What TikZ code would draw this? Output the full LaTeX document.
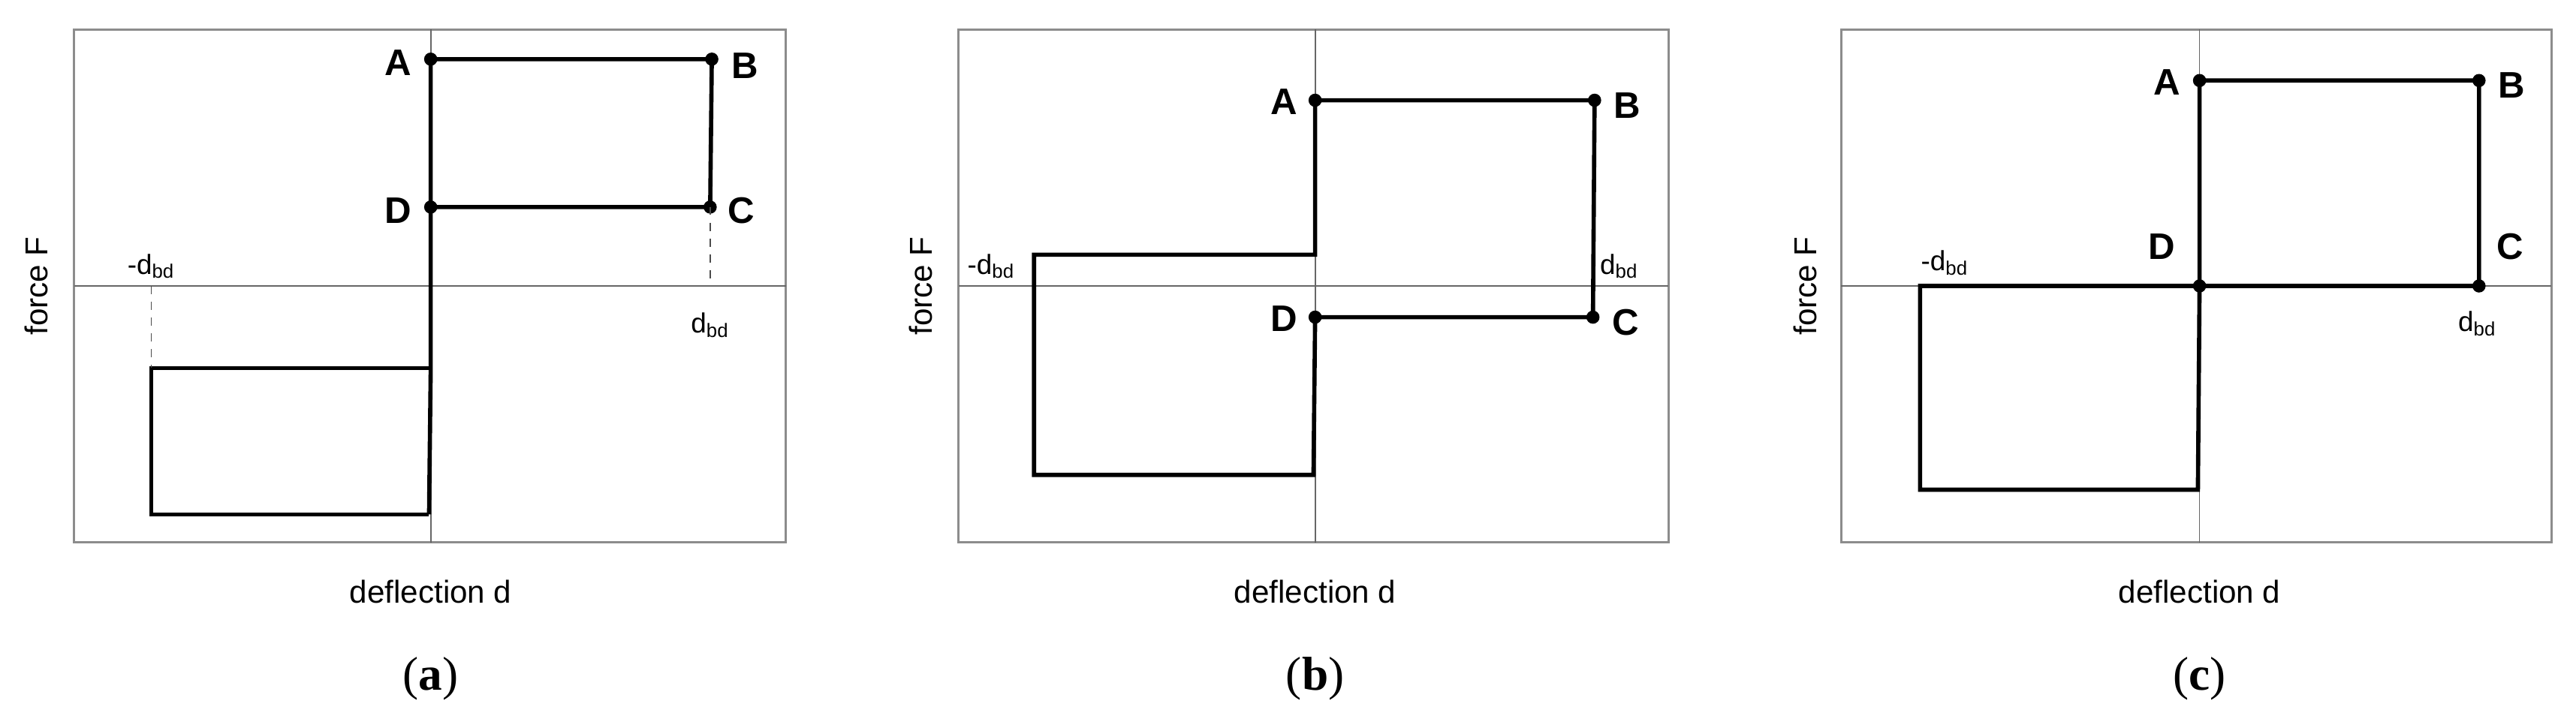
\documentclass[tikz,border=0pt]{standalone}
\usepackage{fontspec}
\setmainfont{Liberation Sans}
\newfontfamily\capfont{Liberation Serif}
\begin{document}
\begin{tikzpicture}[x=0.0219cm,y=-0.0219cm,
  frame/.style={draw=black!45,line width=0.8pt},
  axis/.style={draw=black!60,line width=0.5pt},
  curve/.style={draw=black,line width=1.6pt,line join=miter},
  dot/.style={circle,fill=black,inner sep=0pt,minimum size=5pt},
  pt/.style={font=\fontsize{14}{14}\selectfont\bfseries},
  lab/.style={font=\fontsize{12}{12}\selectfont},
  dl/.style={font=\fontsize{10.5}{10.5}\selectfont,inner sep=1pt},
  captxt/.style={font=\fontsize{18}{18}\capfont},
  dsh/.style={draw=black!70,dashed,line width=0.4pt}]
\useasboundingbox (0,0) rectangle (1567,443);
% ---------- (a)
\draw[frame] (45,18) rectangle (478,330);
\draw[axis] (45,174) -- (478,174) (262,18) -- (262,330);
\coordinate (aA) at (262,36); \coordinate (aB) at (433,36);
\coordinate (aC) at (432,126); \coordinate (aD) at (262,126);
\coordinate (aE) at (262,224); \coordinate (aF) at (92,224);
\coordinate (aG) at (92,313); \coordinate (aH) at (261,313);
\draw[curve] (aA) -- (aB) -- (aC) -- (aD);
\draw[curve] (aH) -- (aE) -- (aA);
\draw[curve] (aE) -- (aF) -- (aG) -- (aH);
\foreach \p in {aA,aB,aC,aD} \node[dot] at (\p) {};
\node[pt] (la) at (242,38) {A}; \node[pt] (lb) at (453,40) {B};
\node[pt] (lc) at (451,128) {C}; \node[pt] (ld) at (242,128) {D};
\draw[dsh] (92,174) -- (aF); \draw[dsh] (aC) -- (432,174);
\node[dl] (am) at (92,162) {-d\textsubscript{bd}};
\node[dl] (ap) at (432,198) {d\textsubscript{bd}};
\node[lab] (ax) at (262,360) {deflection d};
\node[lab,rotate=90] (ay) at (22,174) {force F};
\node[captxt] (ca) at (262,413) {(\textbf{a})};
% ---------- (b)
\draw[frame] (583,18) rectangle (1015,330);
\draw[axis] (583,174) -- (1015,174) (800,18) -- (800,330);
\coordinate (bA) at (800,61); \coordinate (bB) at (970,61);
\coordinate (bC) at (969,193); \coordinate (bD) at (800,193);
\coordinate (bE) at (800,155); \coordinate (bF) at (629,155);
\coordinate (bG) at (629,289); \coordinate (bH) at (799,289);
\draw[curve] (bA) -- (bB) -- (bC) -- (bD) -- (bH) -- (bG) -- (bF) -- (bE) -- (bA);
\foreach \p in {bA,bB,bC,bD} \node[dot] at (\p) {};
\node[pt] at (781,62) {A}; \node[pt] at (990,64) {B};
\node[pt] at (989,196) {C}; \node[pt] at (781,194) {D};
\node[dl] at (603,162) {-d\textsubscript{bd}};
\node[dl] at (985,162) {d\textsubscript{bd}};
\node[lab] at (800,360) {deflection d};
\node[lab,rotate=90] at (560,174) {force F};
\node[captxt] at (800,413) {(\textbf{b})};
% ---------- (c)
\draw[frame] (1120,18) rectangle (1552,330);
\draw[axis] (1120,174) -- (1552,174) (1338,18) -- (1338,330);
\coordinate (cA) at (1338,49); \coordinate (cB) at (1508,49);
\coordinate (cC) at (1508,174); \coordinate (cD) at (1338,174);
\coordinate (cF) at (1168,174); \coordinate (cG) at (1168,298);
\coordinate (cH) at (1337,298);
\draw[curve] (cA) -- (cB) -- (cC) -- (cD) -- (cF) -- (cG) -- (cH) -- (cD) -- (cA);
\foreach \p in {cA,cB,cC,cD} \node[dot] at (\p) {};
\node[pt] at (1318,50) {A}; \node[pt] at (1528,52) {B};
\node[pt] at (1527,150) {C}; \node[pt] at (1315,150) {D};
\node[dl] at (1183,160) {-d\textsubscript{bd}};
\node[dl] at (1507,197) {d\textsubscript{bd}};
\node[lab] at (1338,360) {deflection d};
\node[lab,rotate=90] at (1098,174) {force F};
\node[captxt] at (1338,413) {(\textbf{c})};
\end{tikzpicture}
\end{document}
